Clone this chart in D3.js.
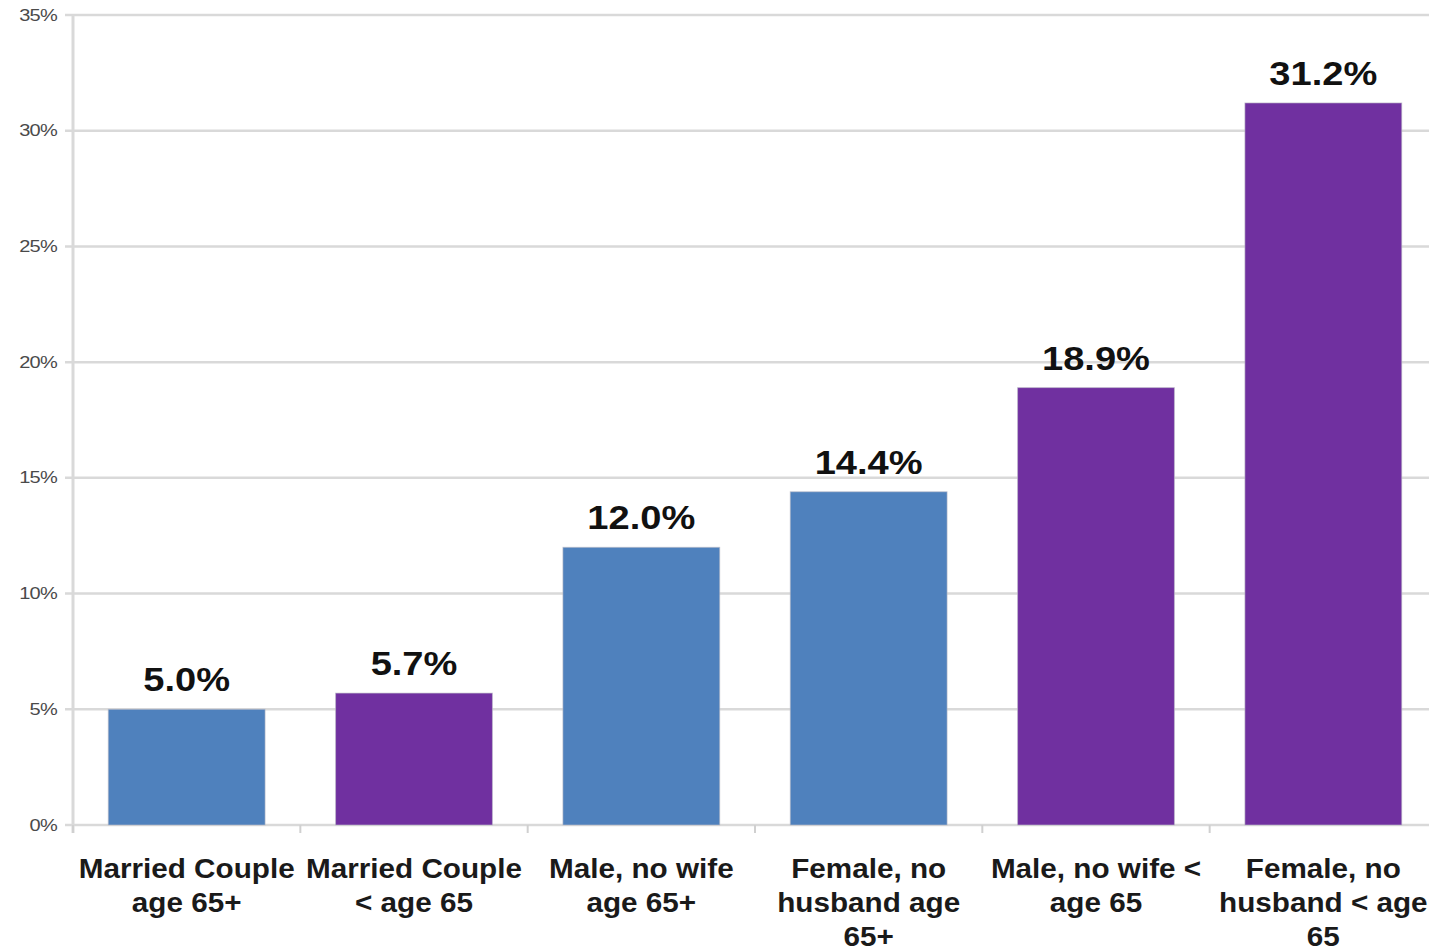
<!DOCTYPE html>
<html><head><meta charset="utf-8">
<script src="https://cdn.jsdelivr.net/npm/d3@7"></script>
<style>body{margin:0;background:#fff}svg{display:block}</style>
</head><body>
<svg id="c" width="1429" height="952"></svg>
<script>
const categories = ["Married Couple age 65+","Married Couple < age 65","Male, no wife age 65+","Female, no husband age 65+","Male, no wife < age 65","Female, no husband < age 65"];
const labelLines = [["Married Couple","age 65+"],["Married Couple","< age 65"],["Male, no wife","age 65+"],["Female, no","husband age","65+"],["Male, no wife <","age 65"],["Female, no","husband < age","65"]];
const values = [5.0, 5.7, 12.0, 14.4, 18.9, 31.2];
const groups = ["65+","<65","65+","65+","<65","<65"];
const yTicks = [0,5,10,15,20,25,30,35];

const svg = d3.select("#c");
const m = {left:73, top:15, right:-8, bottom:127};
const W = 1429, H = 952;
const FONT = "Liberation Sans, Arial, sans-serif";
const x = d3.scaleBand().domain(categories).range([m.left, W - m.right]).paddingInner(0.31).paddingOuter(0.155);
const y = d3.scaleLinear().domain([0,35]).range([H - m.bottom, m.top]);
const color = d3.scaleOrdinal().domain(["65+","<65"]).range(["#4F81BD","#7030A0"]);

// gridlines
svg.append("g").selectAll("line").data(yTicks).join("line")
  .attr("x1", m.left - 8).attr("x2", W).attr("y1", d=>y(d)).attr("y2", d=>y(d))
  .attr("stroke", "#d9d9d9").attr("stroke-width", 2.5);

// y axis line
svg.append("line").attr("x1", m.left).attr("x2", m.left).attr("y1", y(35)).attr("y2", y(0)+8)
  .attr("stroke", "#d9d9d9").attr("stroke-width", 3);

// y tick labels
svg.append("g").selectAll("text").data(yTicks).join("text")
  .attr("transform", d=>`translate(57,${y(d)}) scale(1.25,1)`)
  .attr("dy","0.35em").attr("text-anchor","end")
  .attr("font-family",FONT).attr("font-size",16).attr("fill","#4a4a4a")
  .attr("letter-spacing","-0.6")
  .text(d=>d+"%");

// x ticks at band boundaries
const step = x.step();
const bounds = d3.range(categories.length+1).map(i => m.left + i*step);
svg.append("g").selectAll("line").data(bounds).join("line")
  .attr("x1", d=>d).attr("x2", d=>d).attr("y1", y(0)).attr("y2", y(0)+8)
  .attr("stroke","#d0d0d0").attr("stroke-width",2);

// bars
svg.append("g").selectAll("rect").data(values).join("rect")
  .attr("x",(d,i)=>x(categories[i])).attr("width", x.bandwidth())
  .attr("y", d=>y(d)).attr("height", d=>y(0)-y(d))
  .attr("fill",(d,i)=>color(groups[i]))
  .attr("stroke","rgba(190,190,200,0.6)").attr("stroke-width",1);

// value labels
svg.append("g").selectAll("text").data(values).join("text")
  .attr("transform",(d,i)=>`translate(${x(categories[i]) + x.bandwidth()/2},${y(d) - 18}) scale(1.12,1)`)
  .attr("text-anchor","middle").attr("font-family",FONT)
  .attr("font-weight","bold").attr("font-size",34).attr("fill","#111")
  .text(d=>d.toFixed(1)+"%");

// category labels
svg.append("g").selectAll("g").data(labelLines).join("g")
  .attr("transform",(lines,i)=>`translate(${x(categories[i]) + x.bandwidth()/2},0)`)
  .each(function(lines){
    d3.select(this).selectAll("text").data(lines).join("text")
      .attr("transform",(d,j)=>`translate(0,${878 + j*34}) scale(1.06,1)`)
      .attr("text-anchor","middle").attr("font-family",FONT)
      .attr("font-weight","bold").attr("font-size",28).attr("fill","#1a1a1a")
      .text(d=>d);
  });
</script>
</body></html>
